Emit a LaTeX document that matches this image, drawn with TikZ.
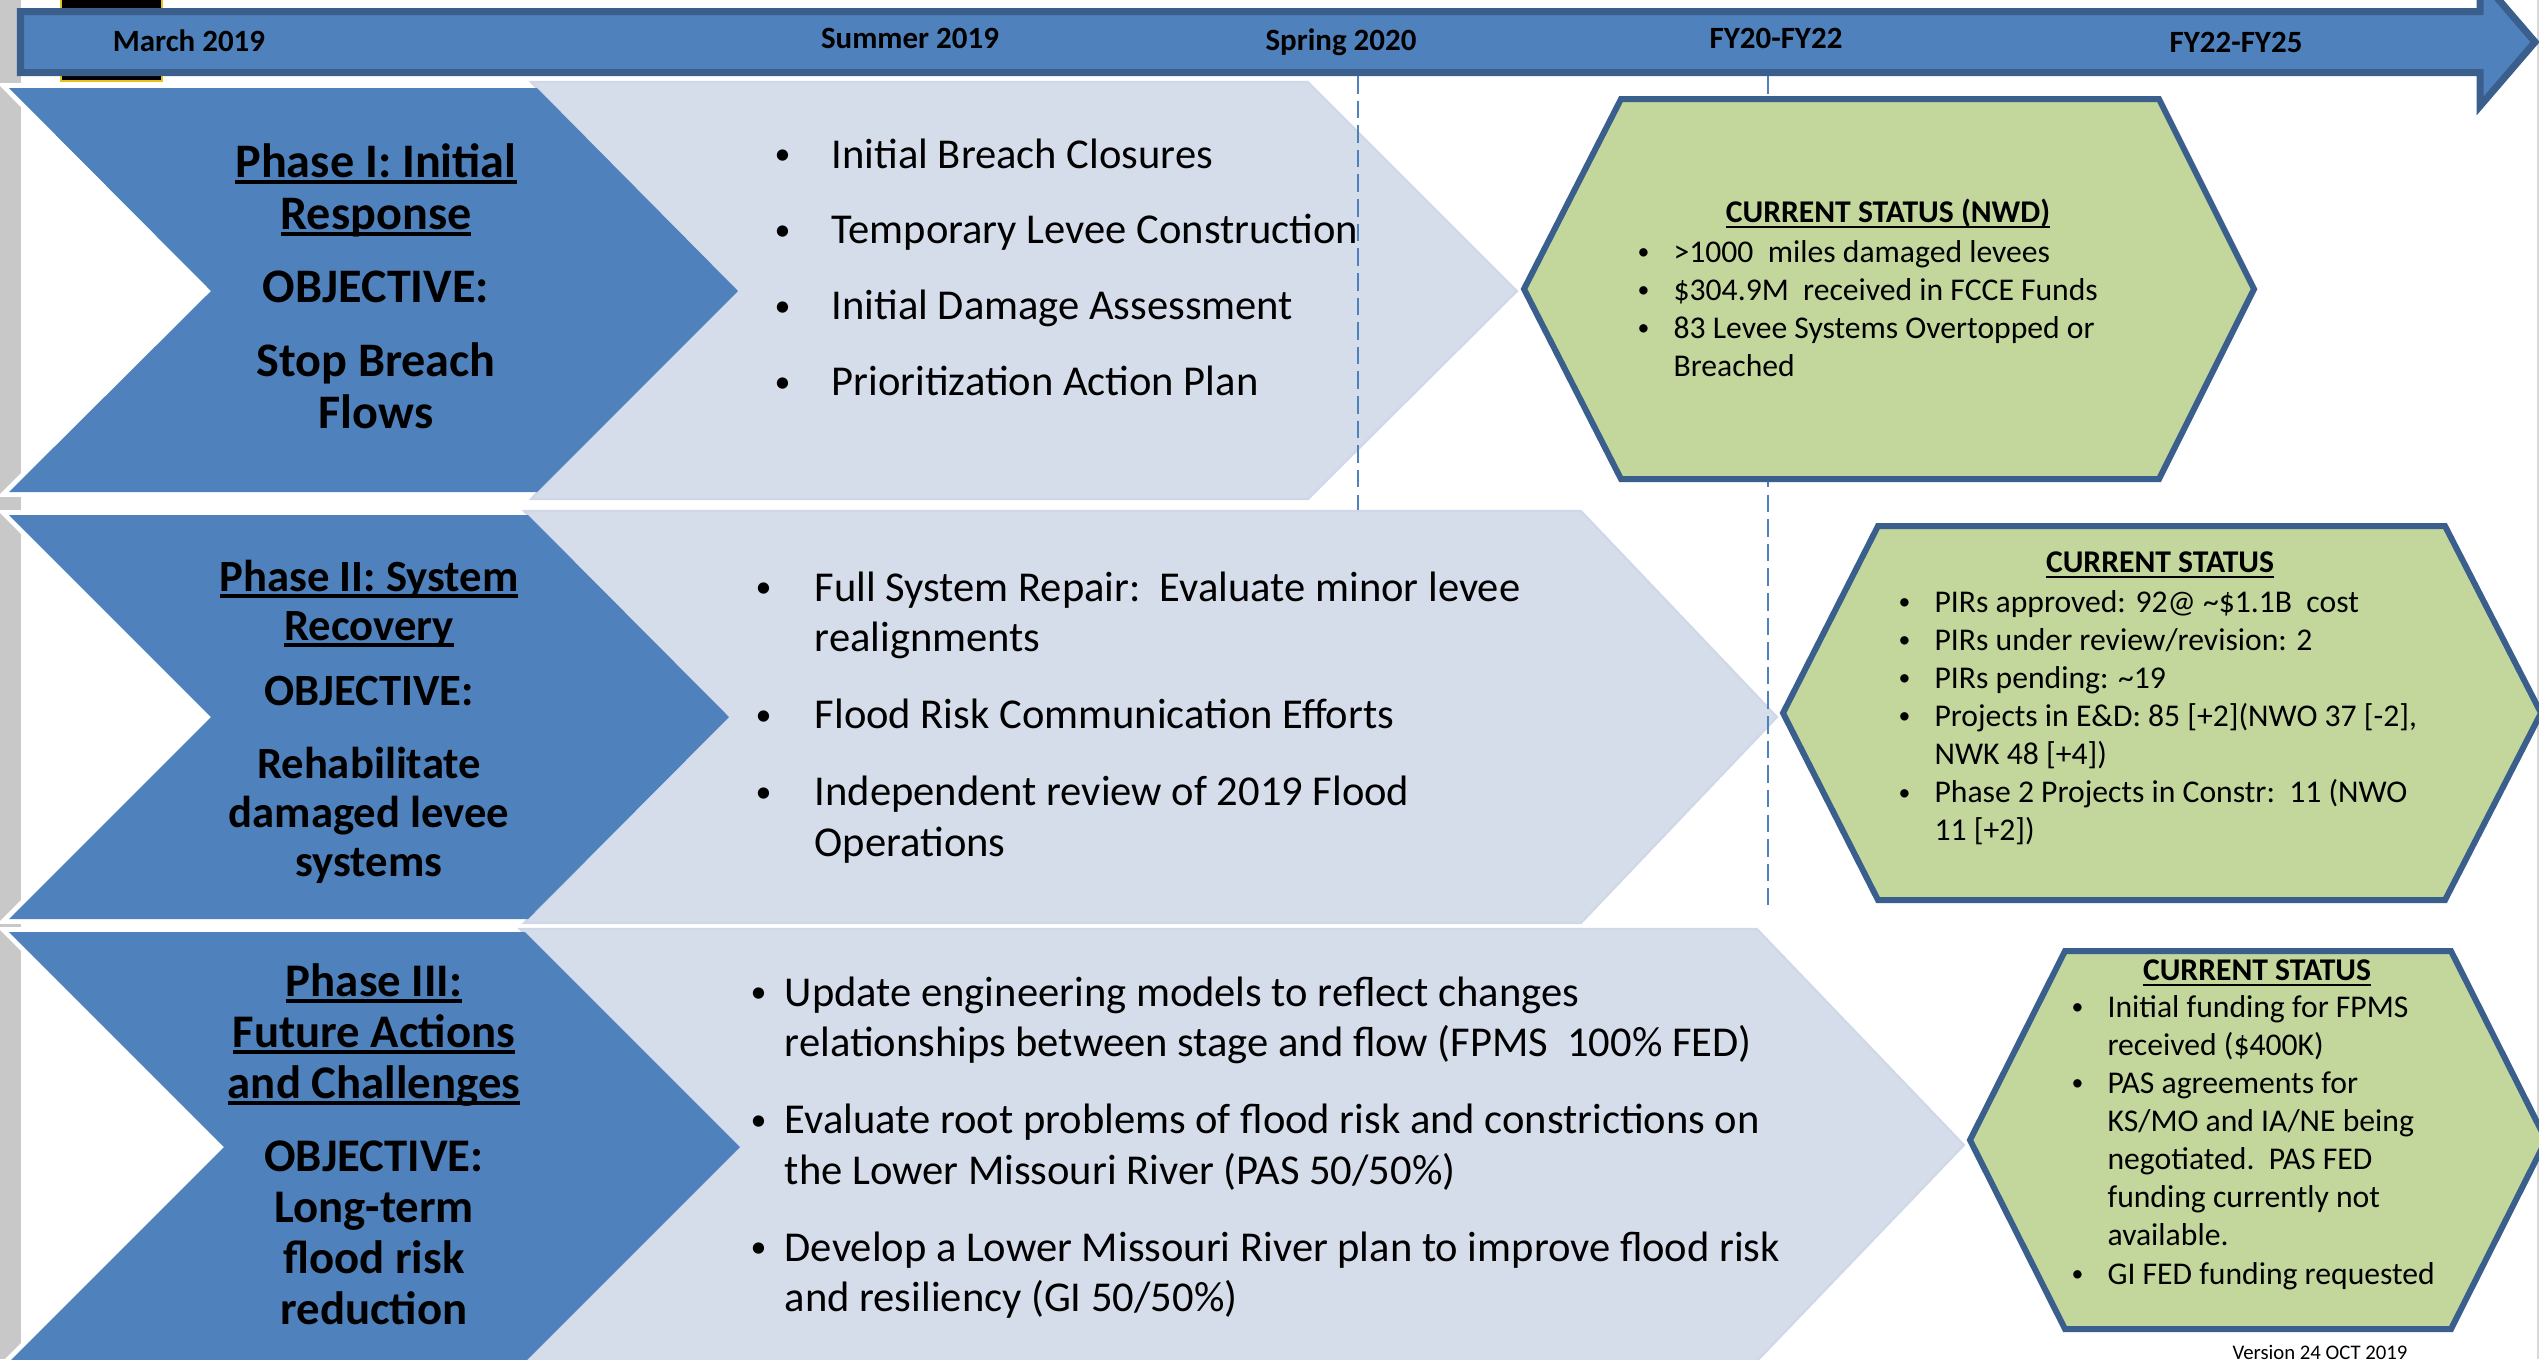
\documentclass[tikz,border=0pt]{standalone}
\usepackage{fontspec}
\setmainfont{Carlito}
\usepackage{array}

\definecolor{phaseblue}{HTML}{4F81BD}
\definecolor{edgeblue}{HTML}{3A5F8D}
\definecolor{panelgray}{HTML}{D5DCEA}
\definecolor{paneledge}{HTML}{CFD7E8}
\definecolor{statusgreen}{HTML}{C3D69B}
\definecolor{stripgray}{HTML}{C8C8C8}
\definecolor{logoyellow}{HTML}{E8C21A}

\newsavebox\ulinebox
\newcommand\phaseul[1]{\sbox\ulinebox{#1}\rlap{\rule[-2pt]{\wd\ulinebox}{1.1pt}}\usebox\ulinebox}
\newcommand\statusul[1]{\sbox\ulinebox{#1}\rlap{\rule[-1.7pt]{\wd\ulinebox}{0.6pt}}\usebox\ulinebox}
\newcommand\dotmark{\raisebox{0.08em}{\scalebox{0.75}{\textbullet}}}
\newcommand\itemfont{\fontsize{12.1}{14.4}\selectfont}
\newcommand\statusfont{\fontsize{9}{10.85}\selectfont}

\begin{document}
\begin{tikzpicture}[x=0.01cm, y=-0.01cm, line join=miter,
    timeline/.style={fill=phaseblue, draw=edgeblue, line width=2pt},
    timelabel/.style={anchor=base, inner sep=0pt, font=\bfseries\fontsize{8.8}{10}\selectfont},
    chevronrim/.style={fill=white, draw=white, line width=2.8pt},
    chevron/.style={fill=phaseblue},
    panel/.style={fill=panelgray, draw=paneledge, line width=0.6pt},
    status/.style={fill=statusgreen, draw=edgeblue, line width=1.7pt},
    markline/.style={phaseblue, line width=0.7pt, dash pattern=on 5pt off 2pt},
    phasetext/.style={anchor=base, inner sep=0pt},
    itemtext/.style={anchor=base west, inner sep=0pt, font=\itemfont},
    statustext/.style={anchor=base west, inner sep=0pt, font=\statusfont},
    statustitle/.style={anchor=base, inner sep=0pt, font=\statusfont\bfseries}]
  \useasboundingbox (0,0) rectangle (2539,1359);

  % slide frame and logo behind the timeline
  \fill[stripgray] (0,0) rectangle (21,1359);
  \draw[stripgray!70, line width=0.4pt] (2538,0) -- (2538,1359);
  \draw[logoyellow, fill=black, line width=0.5pt] (61,-5) rectangle (162,81);

  % timeline arrow
  \draw[timeline] (20.5,11.5) -- (2480,11.5) -- (2480,-22) -- (2535,42) -- (2480,106) -- (2480,72.5) -- (20.5,72.5) -- cycle;
  \node[timelabel] (mar19) at (189,51) {March 2019};
  \node[timelabel] (sum19) at (910,48) {Summer 2019};
  \node[timelabel] (spr20) at (1341,50) {Spring 2020};
  \node[timelabel] (fy2022) at (1776,48) {FY20-FY22};
  \node[timelabel] (fy2225) at (2236,52) {FY22-FY25};

  % white rims of the phase chevrons
  \draw[chevronrim] (9,88) -- (537,88) -- (738,291) -- (537,492) -- (9,492) -- (211,291) -- cycle;
  \draw[chevronrim] (9,515) -- (528,515) -- (729,717) -- (528,919) -- (9,919) -- (211,717) -- cycle;
  \draw[chevronrim] (9,932) -- (525,932) -- (740,1147) -- (525,1362) -- (9,1362) -- (224,1147) -- cycle;

  % action panels
  \draw[panel] (531,82) -- (1308,82) -- (1517,291) -- (1308,499) -- (531,499) -- (733,291) -- cycle;
  \draw[panel] (524,511) -- (1581,511) -- (1777,717) -- (1581,923) -- (524,923) -- (725,717) -- cycle;
  \draw[panel] (520,929) -- (1757,929) -- (1964,1145) -- (1757,1361) -- (520,1361) -- (736,1145) -- cycle;

  % phase chevrons
  \fill[chevron] (9,88) -- (537,88) -- (738,291) -- (537,492) -- (9,492) -- (211,291) -- cycle;
  \fill[chevron] (9,515) -- (528,515) -- (729,717) -- (528,919) -- (9,919) -- (211,717) -- cycle;
  \fill[chevron] (9,932) -- (525,932) -- (740,1147) -- (525,1362) -- (9,1362) -- (224,1147) -- cycle;

  % time marks
  \coordinate (mk1a) at (1358,76);
  \coordinate (mk1b) at (1358,510);
  \coordinate (mk2a) at (1768,76);
  \coordinate (mk2b) at (1768,905);
  \draw[markline] (mk1a) -- (mk1b);
  \draw[markline] (mk2a) -- (mk2b);

  % status hexagons
  \draw[status] (1524,289) -- (1621,99) -- (2159,99) -- (2254,289) -- (2159,479) -- (1621,479) -- cycle;
  \draw[status] (1783,713) -- (1878,526) -- (2445,526) -- (2541,713) -- (2445,900) -- (1878,900) -- cycle;
  \draw[status] (1970,1140) -- (2065,951) -- (2451,951) -- (2546,1140) -- (2451,1329) -- (2065,1329) -- cycle;

  % phase objectives
  \node[phasetext, font=\bfseries\fontsize{13.7}{14.8}\selectfont] (obj1) at (376,177)
    {\begin{tabular}[t]{@{}c@{}}\phaseul{Phase I: Initial}\\ \phaseul{Response}\\[6.2pt]
      OBJECTIVE:\\[6pt] Stop Breach\\ Flows\end{tabular}};
  \node[phasetext, font=\bfseries\fontsize{12.7}{13.95}\selectfont] (obj2) at (369,591)
    {\begin{tabular}[t]{@{}c@{}}\phaseul{Phase II: System}\\ \phaseul{Recovery}\\[4.6pt]
      OBJECTIVE:\\[6.8pt] Rehabilitate\\ damaged levee\\ systems\end{tabular}};
  \node[phasetext, font=\bfseries\fontsize{13.3}{14.5}\selectfont] (obj3) at (374,996)
    {\begin{tabular}[t]{@{}c@{}}\phaseul{Phase III:}\\ \phaseul{Future Actions}\\ \phaseul{and Challenges}\\[6.3pt]
      OBJECTIVE:\\ Long-term\\ flood risk\\ reduction\end{tabular}};

  % actions
  \node[itemtext] (acts1) at (774,168)
    {\begin{tabular}[t]{@{}p{16.2pt}@{}l@{}}
      \dotmark & Initial Breach Closures\\[7.2pt]
      \dotmark & Temporary Levee Construction\\[7.2pt]
      \dotmark & Initial Damage Assessment\\[7.2pt]
      \dotmark & Prioritization Action Plan
    \end{tabular}};
  \node[itemtext] (acts2) at (755,601)
    {\begin{tabular}[t]{@{}p{16.8pt}@{}l@{}}
      \dotmark & Full System Repair:\ \ Evaluate minor levee\\
               & realignments\\[7.5pt]
      \dotmark & Flood Risk Communication Efforts\\[7.5pt]
      \dotmark & Independent review of 2019 Flood\\
               & Operations
    \end{tabular}};
  \node[itemtext] (acts3) at (750,1006)
    {\begin{tabular}[t]{@{}p{9.7pt}@{}l@{}}
      \dotmark & Update engineering models to reflect changes\\
               & relationships between stage and flow (FPMS\ \ 100\% FED)\\[7.5pt]
      \dotmark & Evaluate root problems of flood risk and constrictions on\\
               & the Lower Missouri River (PAS 50/50\%)\\[7.5pt]
      \dotmark & Develop a Lower Missouri River plan to improve flood risk\\
               & and resiliency (GI 50/50\%)
    \end{tabular}};

  % status texts
  \node[statustitle] (stat1) at (1888,222) {\statusul{CURRENT STATUS (NWD)}};
  \node[statustext] (list1) at (1637,262)
    {\begin{tabular}[t]{@{}p{10.2pt}@{}l@{}}
      \dotmark & >1000\ \ miles damaged levees\\
      \dotmark & \$304.9M\ \ received in FCCE Funds\\
      \dotmark & 83 Levee Systems Overtopped or\\
               & Breached
    \end{tabular}};
  \node[statustitle] (stat2) at (2160,572) {\statusul{CURRENT STATUS}};
  \node[statustext] (list2) at (1898,612)
    {\begin{tabular}[t]{@{}p{10.2pt}@{}l@{}}
      \dotmark & PIRs approved: 92@ \textasciitilde\$1.1B\ \ cost\\
      \dotmark & PIRs under review/revision: 2\\
      \dotmark & PIRs pending: \textasciitilde19\\
      \dotmark & Projects in E\&D: 85 [+2](NWO 37 [-2],\\
               & NWK 48 [+4])\\
      \dotmark & Phase 2 Projects in Constr:\ \ 11 (NWO\\
               & 11 [+2])
    \end{tabular}};
  \node[statustitle] (stat3) at (2257,980) {\statusul{CURRENT STATUS}};
  \node[statustext] (list3) at (2071,1017)
    {\begin{tabular}[t]{@{}p{10.2pt}@{}l@{}}
      \dotmark & Initial funding for FPMS\\
               & received (\$400K)\\
      \dotmark & PAS agreements for\\
               & KS/MO and IA/NE being\\
               & negotiated.\ \ PAS FED\\
               & funding currently not\\
               & available.\\
      \dotmark & GI FED funding requested
    \end{tabular}};

  \node[anchor=base, inner sep=0pt, font=\fontsize{5.9}{7}\selectfont] (version) at (2320,1359) {Version 24 OCT 2019};
\end{tikzpicture}
\end{document}
